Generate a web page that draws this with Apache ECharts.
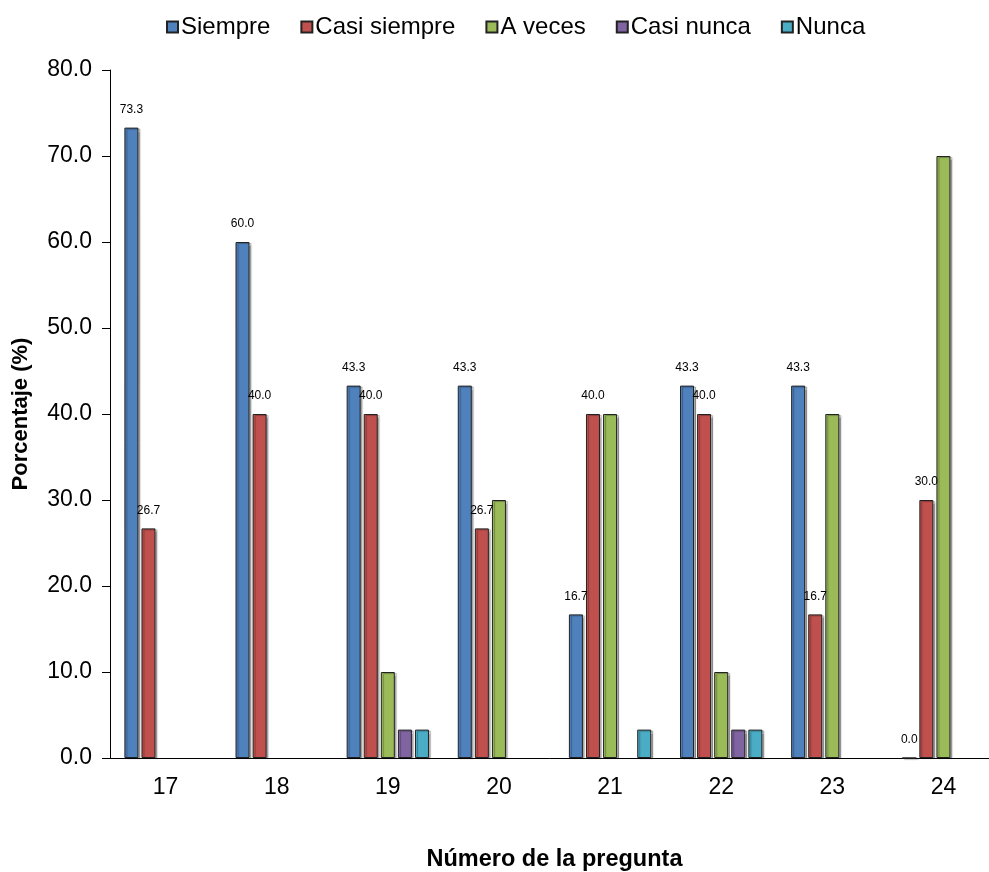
<!DOCTYPE html>
<html>
<head>
<meta charset="utf-8">
<script src="https://cdn.jsdelivr.net/npm/echarts@6/dist/echarts.min.js"></script>
<style>
html,body{margin:0;padding:0;background:#fff;}
#chart{width:989px;height:872px;}
</style>
</head>
<body>
<div id="chart"></div>
<script>
const categories = ['17','18','19','20','21','22','23','24'];
const seriesNames = ['Siempre','Casi siempre','A veces','Casi nunca','Nunca'];
const siempre     = [73.3, 60.0, 43.3, 43.3, 16.7, 43.3, 43.3, 0.0];
const casiSiempre = [26.7, 40.0, 40.0, 26.7, 40.0, 40.0, 16.7, 30.0];
const aVeces      = [null, null, 10.0, 30.0, 40.0, 10.0, 40.0, 70.0];
const casiNunca   = [null, null, 3.3, null, null, 3.3, null, null];
const nunca       = [null, null, 3.3, null, 3.3, 3.3, null, null];
const yTicks = {min: 0, max: 80, interval: 10};

const colors = ['#4F81BD','#C0504D','#9BBB59','#8064A2','#4BACC6'];
const values = [siempre, casiSiempre, aVeces, casiNunca, nunca];
const withLabels = [true, true, false, false, false];
const FONT = 'Liberation Sans, Arial, sans-serif';

const chart = echarts.init(document.getElementById('chart'), null, {renderer:'canvas'});
chart.setOption({
  animation: false,
  backgroundColor: '#fff',
  textStyle: {fontFamily: FONT},
  legend: {
    top: 10, left: 161,
    itemWidth: 11, itemHeight: 11, itemGap: 30,
    icon: 'rect',
    textStyle: {fontSize: 24, color: '#000', fontFamily: FONT, padding: [0,0,0,-2]},
    data: seriesNames
  },
  grid: {left: 110, top: 70, width: 889, height: 688, outerBoundsMode: 'none', containLabel: false},
  xAxis: {
    type: 'category', data: categories,
    name: 'Número de la pregunta', nameLocation: 'middle', nameGap: 90,
    nameTextStyle: {fontSize: 23.5, fontWeight: 'bold', color: '#000', fontFamily: FONT},
    axisLine: {lineStyle: {color: '#000', width: 1}},
    axisTick: {length: 7, lineStyle: {color: '#000'}},
    axisLabel: {fontSize: 23, color: '#000', margin: 18, fontFamily: FONT},
    splitLine: {show: false}
  },
  yAxis: {
    type: 'value', min: yTicks.min, max: yTicks.max, interval: yTicks.interval,
    name: 'Porcentaje (%)', nameLocation: 'middle', nameGap: 78, nameRotate: 90,
    nameTextStyle: {fontSize: 22, fontWeight: 'bold', color: '#000', fontFamily: FONT},
    axisLine: {show: true, lineStyle: {color: '#000', width: 1}},
    axisTick: {show: true, length: 8, lineStyle: {color: '#000'}},
    axisLabel: {fontSize: 23, color: '#000', margin: 18, fontFamily: FONT,
      formatter: v => v.toFixed(1)},
    splitLine: {show: false}
  },
  series: seriesNames.map((name, i) => ({
    name: name, type: 'bar', data: values[i],
    barWidth: 14, barGap: '22%',
    itemStyle: {color: colors[i], borderColor: '#222', borderWidth: 1,
      shadowColor: 'rgba(0,0,0,0.3)', shadowOffsetX: 2, shadowOffsetY: 1, shadowBlur: 1},
    label: {show: withLabels[i], position: 'top', distance: 12, fontSize: 12,
      color: '#000', fontFamily: FONT, formatter: p => p.value.toFixed(1)}
  }))
});
</script>
</body>
</html>
